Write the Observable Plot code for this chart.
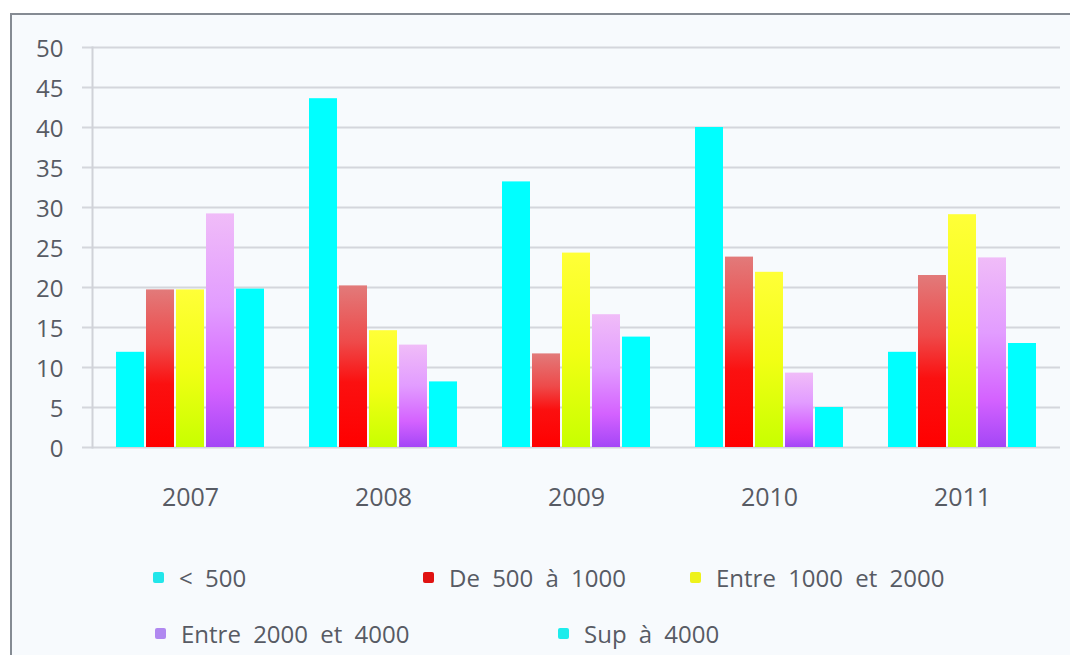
<!DOCTYPE html>
<html>
<head>
<meta charset="utf-8">
<script src="https://cdn.jsdelivr.net/npm/d3@7"></script>
<script src="https://cdn.jsdelivr.net/npm/@observablehq/plot@0.6"></script>
<style>
  html, body { margin: 0; padding: 0; background: #ffffff; }
  #chart { position: relative; width: 1070px; height: 655px; overflow: hidden; background: #ffffff; }
  #panel { position: absolute; left: 10px; top: 13px; width: 1070px; height: 660px;
           border-left: 2px solid #858b93; border-top: 2px solid #858b93; background: #f7fafd; }
  .layer { position: absolute; left: 0; top: 0; }
  #legend { position: absolute; left: 0; top: 0; width: 1070px; height: 655px; pointer-events: none;
            font-family: "Open Sans", sans-serif; font-size: 24px; color: #575b64; }
  .item { position: absolute; display: flex; align-items: center; white-space: nowrap; word-spacing: 6px; }
  .swatch { width: 11px; height: 11px; margin-right: 15px; border-radius: 2px; }
</style>
</head>
<body>
<div id="chart">
  <div id="panel"></div>
  <div id="grid" class="layer"></div>
  <div id="bars" class="layer"></div>
  <div id="legend"></div>
</div>
<script>
// Répartition par tranche, en %, de 2007 à 2011
const years = ["2007", "2008", "2009", "2010", "2011"];
const series = ["< 500", "De 500 à 1000", "Entre 1000 et 2000", "Entre 2000 et 4000", "Sup à 4000"];

const moins500        = [11.9, 43.6, 33.2, 40.0, 11.9];
const de500a1000      = [19.7, 20.2, 11.7, 23.8, 21.5];
const entre1000et2000 = [19.7, 14.6, 24.3, 21.9, 29.1];
const entre2000et4000 = [29.2, 12.8, 16.6,  9.3, 23.7];
const sup4000         = [19.8,  8.2, 13.8,  5.0, 13.0];

const yTicks = [0, 5, 10, 15, 20, 25, 30, 35, 40, 45, 50];

// long table built from the series arrays
const columns = [moins500, de500a1000, entre1000et2000, entre2000et4000, sup4000];
const table = [];
years.forEach((year, i) => {
  series.forEach((s, j) => table.push({year, series: s, value: columns[j][i]}));
});

// bar fills: solid cyan, vertical gradients for the others
const fills = ["#00ffff", "url(#g-red)", "url(#g-yellow)", "url(#g-violet)", "#00ffff"];
const swatches = ["#22e6ea", "#e01212", "#eef21c", "#b088f0", "#1eecec"];
const gradients = {
  "g-red":    [[0, "#e27a7a"], [0.35, "#ee4a4a"], [0.6, "#fb1010"], [1, "#ff0000"]],
  "g-yellow": [[0, "#ffff38"], [0.5, "#f2ff14"], [1, "#c8ff00"]],
  "g-violet": [[0, "#f0bcf8"], [0.4, "#e29cff"], [0.75, "#d462ff"], [1, "#a446f6"]]
};

const font = "'Open Sans', sans-serif";
const textColor = "#575b64";

// shared frame for both layers
const frame = {
  width: 1070, height: 530,
  marginLeft: 92, marginRight: 10, marginTop: 47, marginBottom: 83,
  style: {background: "transparent", fontFamily: font, fontSize: "24px", color: textColor, overflow: "visible"}
};
const yScale = {domain: [0, 50], axis: null};

// background layer: gridlines, vertical axis and its labels
const grid = Plot.plot({
  ...frame,
  y: yScale,
  marks: [
    Plot.ruleY(yTicks, {stroke: "#d4d6dc", strokeWidth: 2, insetLeft: -10}),
    Plot.frame({anchor: "left", stroke: "#d0d2d8", strokeWidth: 2}),
    Plot.text(yTicks, {y: d => d, frameAnchor: "left", dx: -29, dy: 2, textAnchor: "end",
                       text: d => String(d), fill: textColor, fontSize: 24})
  ]
});

// foreground layer: grouped bars, one facet per year
const bars = Plot.plot({
  ...frame,
  fx: {domain: years, paddingInner: 0.225, paddingOuter: 0.1125, axis: null},
  x: {domain: series, padding: 0, axis: null},
  y: yScale,
  color: {domain: series, range: fills},
  marks: [
    Plot.barY(table, {fx: "year", x: "series", y: "value", fill: "series", insetLeft: 1, insetRight: 1}),
    Plot.text(years, {fx: d => d, frameAnchor: "bottom", dy: 50, lineAnchor: "middle",
                      text: d => d, fill: textColor, fontSize: 25})
  ]
});

// gradient definitions referenced by the bar fills
const defs = d3.select(bars).insert("defs", ":first-child");
Object.entries(gradients).forEach(([id, stops]) => {
  const g = defs.append("linearGradient").attr("id", id)
    .attr("x1", 0).attr("y1", 0).attr("x2", 0).attr("y2", 1);
  stops.forEach(([o, c]) => g.append("stop").attr("offset", o).attr("stop-color", c));
});

document.getElementById("grid").appendChild(grid);
document.getElementById("bars").appendChild(bars);

// legend in two rows below the chart
const slots = [[153, 577], [423, 577], [690, 577], [155, 633], [558, 633]];
const legend = d3.select("#legend");
series.forEach((s, i) => {
  const item = legend.append("div").attr("class", "item")
    .style("left", slots[i][0] + "px").style("top", (slots[i][1] - 16) + "px").style("height", "32px");
  item.append("div").attr("class", "swatch").style("background", swatches[i]);
  item.append("span").text(s);
});
</script>
</body>
</html>
